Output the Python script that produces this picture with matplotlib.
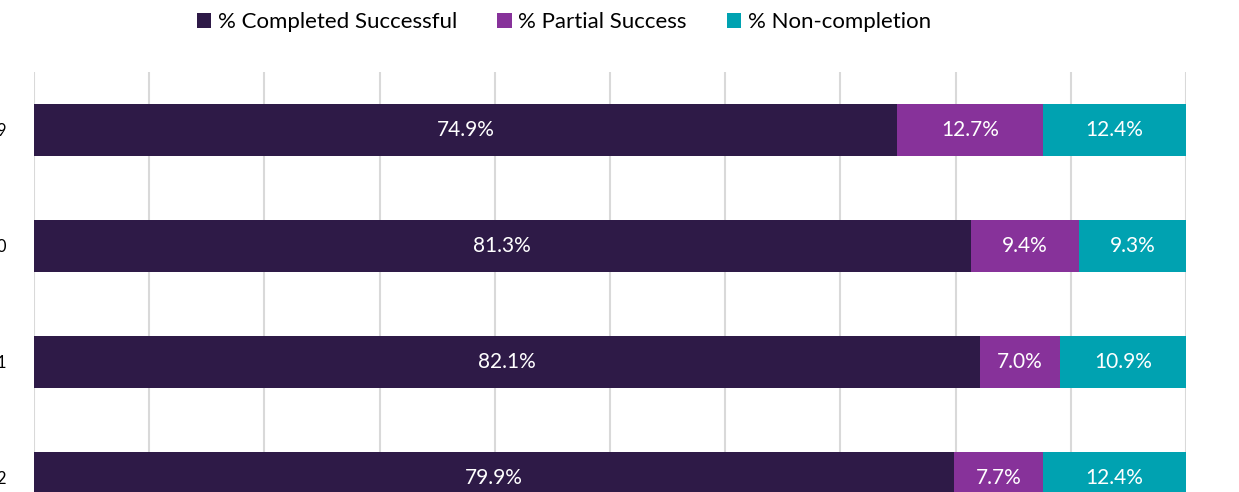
import matplotlib.pyplot as plt
import numpy as np

categories = ['2019', '2020', '2021', '2022']
completed = [74.9, 81.3, 82.1, 79.9]
partial = [12.7, 9.4, 7.0, 7.7]
noncompletion = [12.4, 9.3, 10.9, 12.4]

series = [
    ('% Completed Successful', completed, '#2E1A47'),
    ('% Partial Success', partial, '#87329A'),
    ('% Non-completion', noncompletion, '#00A2B1'),
]

plt.rcParams['font.family'] = ['Lato', 'DejaVu Sans']

fig = plt.figure(figsize=(12.39, 4.92), dpi=100)
ax = fig.add_axes([34 / 1239, 1 - 536 / 492, 1152 / 1239, 464 / 492])

y = np.arange(len(categories))
left = np.zeros(len(categories))
for name, vals, col in series:
    vals = np.array(vals)
    ax.barh(y, vals, left=left, height=0.44, color=col, label=name, zorder=3)
    for yi, l, v in zip(y, left, vals):
        ax.text(l + v / 2, yi, f'{v:.1f}%', ha='center', va='center',
                color='white', fontsize=15, zorder=4)
    left += vals

ax.set_xlim(0, 100)
ax.set_ylim(3.5, -0.5)
ax.set_xticks(np.arange(0, 101, 10))
ax.xaxis.set_ticklabels([])
ax.tick_params(axis='x', length=0)
ax.grid(axis='x', color='#D9D9D9', linewidth=1.5, zorder=0)
# category labels sit mostly outside the canvas, as in the original crop
ax.set_yticks(y)
ax.set_yticklabels(categories, fontsize=12)
ax.tick_params(axis='y', length=0, pad=20)
for s in ax.spines.values():
    s.set_visible(False)

fig.legend(loc='center', bbox_to_anchor=(564 / 1239, 1 - 22 / 492), ncol=3, frameon=False,
           fontsize=16, handlelength=0.65, handleheight=0.65, handletextpad=0.3,
           columnspacing=1.8)

fig.savefig('out.png', dpi=100)
